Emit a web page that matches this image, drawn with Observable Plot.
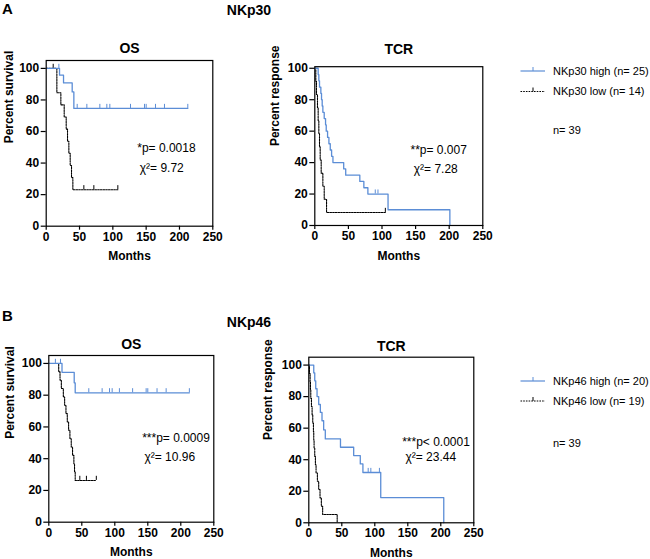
<!DOCTYPE html>
<html><head><meta charset="utf-8">
<script src="https://cdn.jsdelivr.net/npm/d3@7"></script>
<script src="https://cdn.jsdelivr.net/npm/@observablehq/plot@0.6"></script>
<style>
body{margin:0;background:#fff;}
#root{position:relative;width:650px;height:559px;overflow:hidden;}
#root svg{position:absolute;}
#root svg text.bold{font-weight:700 !important;}
#root svg text.normal{font-weight:400 !important;}
</style></head><body><div id="root"></div>
<script>
const FONT = '"Liberation Sans", Arial, Helvetica, sans-serif';
const BLUE = "#5b8dd6";

const xTicks = [0, 50, 100, 150, 200, 250];
const yTicks = [0, 20, 40, 60, 80, 100];

// ---- NKp30 OS ----
const a_os_high_months = [0, 20, 26, 39, 41.5, 212.5];
const a_os_high_values = [100, 95.7, 90.8, 85.1, 74.6, 74.6];
const a_os_high_censor = [19, 46.5, 61, 80.5, 91, 95.5, 126.5, 147.5, 150, 164, 177.5, 212.5];
const a_os_low_months = [0, 16, 22, 27, 30, 32, 34, 36, 38, 40, 107.5];
const a_os_low_values = [100, 84.6, 76.9, 69.2, 61.5, 53.8, 46.2, 38.5, 30.8, 23.1, 23.1];
const a_os_low_censor = [10.5, 56.5, 71.5, 107.5];

// ---- NKp30 TCR ----
const a_tcr_high_months = [0, 5, 6, 7, 9, 10, 11, 12, 14, 16, 17, 19, 21, 23, 25, 27, 43, 46, 67, 73, 79, 109, 201];
const a_tcr_high_values = [100, 96, 92, 88, 84, 80, 76, 72, 68, 64, 60, 56, 52, 48, 44, 40, 36, 32, 28, 24, 20, 10, 0];
const a_tcr_high_censor = [90, 94];
const a_tcr_low_months = [0, 1.5, 2.5, 4, 5, 6, 7, 8, 9.5, 12, 14, 17.5, 105];
const a_tcr_low_values = [100, 91.7, 83.3, 75, 66.7, 58.3, 50, 41.7, 33.3, 25, 16.7, 8.3, 8.3];
const a_tcr_low_censor = [105];

// ---- NKp46 OS ----
const b_os_high_months = [0, 20, 38.5, 40, 213];
const b_os_high_values = [100, 94.4, 87.8, 81.5, 81.5];
const b_os_high_censor = [10, 17.7, 60.6, 80.8, 92, 96, 107, 127, 147.5, 150, 164, 177.8, 213];
const b_os_low_months = [0, 15, 17, 19, 22, 24, 26, 28, 30, 32, 34, 36, 38, 39, 40, 72];
const b_os_low_values = [100, 94.7, 89.5, 84.2, 78.9, 73.7, 68.4, 63.2, 57.9, 52.6, 47.4, 42.1, 36.8, 31.6, 26.3, 26.3];
const b_os_low_censor = [47, 57, 72];

// ---- NKp46 TCR ----
const b_tcr_high_months = [0, 7.5, 9, 10.5, 12.5, 15, 17.5, 20, 22.5, 25, 48, 68, 78, 82, 109, 204.5];
const b_tcr_high_values = [100, 95, 90, 85, 80, 75, 70, 64.7, 58.9, 53.2, 47.9, 42.6, 37.3, 31.9, 16, 0];
const b_tcr_high_censor = [90, 94, 107];
const b_tcr_low_months = [0, 1, 2, 2.5, 3, 4, 5, 6, 7, 7.5, 8, 9, 10, 11, 13, 15, 17, 19, 21, 43];
const b_tcr_low_values = [100, 94.7, 89.5, 84.2, 78.9, 73.7, 68.4, 63.2, 57.9, 52.6, 47.4, 42.1, 36.8, 31.6, 26.3, 21.1, 15.8, 10.5, 5.3, 0];
const b_tcr_low_censor = [];

// ---- texts ----
const groupTitles = ["NKp30", "NKp46"];
const panelLetters = ["A", "B"];
const panelTitles = ["OS", "TCR"];
const yLabels = ["Percent survival", "Percent response"];
const xLabel = "Months";
const pTexts = ["*p= 0.0018", "**p= 0.007", "***p= 0.0009", "***p< 0.0001"];
const chiTexts = ["χ²= 9.72", "χ²= 7.28", "χ²= 10.96", "χ²= 23.44"];
const legendA = ["NKp30 high (n= 25)", "NKp30 low (n= 14)"];
const legendB = ["NKp46 high (n= 20)", "NKp46 low (n= 19)"];
const totalN = "n= 39";

function stepAt(months, values, m) {
  let v = values[0];
  for (let i = 0; i < months.length; i++) if (months[i] <= m) v = values[i];
  return v;
}
function series(months, values) { return months.map((m, i) => ({m, v: values[i]})); }
function censors(list, months, values) { return list.map(m => ({m, v: stepAt(months, values, m)})); }

const root = document.getElementById("root");
const normalTexts = new Set([...pTexts, ...chiTexts]);

function panel(cfg) {
  const hi = series(cfg.hm, cfg.hv), lo = series(cfg.lm, cfg.lv);
  const hiC = censors(cfg.hc, cfg.hm, cfg.hv), loC = censors(cfg.lc, cfg.lm, cfg.lv);
  const tick = 2.6;
  const svg = Plot.plot({
    width: cfg.width, height: cfg.height,
    marginLeft: cfg.ml, marginRight: cfg.mr, marginTop: cfg.mt, marginBottom: cfg.mb,
    x: {domain: [0, 250], label: null},
    y: {domain: [0, cfg.yMax], label: null},
    style: {fontFamily: FONT, fontSize: "12px", background: "none", color: "black", overflow: "visible"},
    marks: [
      Plot.line(lo, {x: "m", y: "v", curve: "step-after", stroke: "black", strokeWidth: 1.1, strokeDasharray: "1.6,1.1"}),
      Plot.ruleX(loC, {x: "m", y1: "v", y2: d => d.v + tick, stroke: "black", strokeWidth: 1}),
      Plot.line(hi, {x: "m", y: "v", curve: "step-after", stroke: BLUE, strokeWidth: 1.3}),
      Plot.ruleX(hiC, {x: "m", y1: "v", y2: d => d.v + tick, stroke: BLUE, strokeWidth: 1}),
      Plot.frame({stroke: "black", strokeWidth: 1.2}),
      Plot.axisX({ticks: xTicks, tickSize: 4, tickPadding: 2, label: null, strokeWidth: 1.2, fontSize: 12}),
      Plot.axisY({ticks: yTicks, tickSize: 5, tickPadding: 2, label: null, strokeWidth: 1.2, fontSize: 12}),
      Plot.text([cfg.title], {frameAnchor: "top", lineAnchor: "middle", dy: cfg.titleDy, fontSize: 14}),
      Plot.text([cfg.yLabel], {frameAnchor: "left", lineAnchor: "middle", rotate: -90, dx: cfg.yLabelDx, fontSize: 12}),
      Plot.text([xLabel], {frameAnchor: "bottom", lineAnchor: "middle", dy: 30.3, fontSize: 12}),
      Plot.text([cfg.p], {x: () => cfg.px, y: () => cfg.py, textAnchor: "start", fontSize: 12}),
      Plot.text([cfg.chi], {x: () => cfg.cx, y: () => cfg.cy, textAnchor: "start", fontSize: 12})
    ]
  });
  svg.querySelectorAll("text").forEach(t => {
    const isNormal = normalTexts.has(t.textContent.trim());
    t.setAttribute("class", isNormal ? "normal" : "bold");
    t.setAttribute("font-weight", isNormal ? "normal" : "bold");
  });
  svg.style.left = cfg.left + "px";
  svg.style.top = cfg.top + "px";
  root.appendChild(svg);
}

panel({left: 0, top: 30, width: 227.3, height: 235.7, ml: 45.7, mr: 15, mt: 30, mb: 40, yMax: 105,
  hm: a_os_high_months, hv: a_os_high_values, hc: a_os_high_censor,
  lm: a_os_low_months, lv: a_os_low_values, lc: a_os_low_censor,
  title: panelTitles[0], titleDy: -11.6, yLabel: yLabels[0], yLabelDx: -37.4,
  p: pTexts[0], px: 136.6, py: 49.2, chi: chiTexts[0], cx: 140.5, cy: 36.9});

panel({left: 262, top: 30, width: 235.3, height: 235, ml: 52.3, mr: 15, mt: 36.2, mb: 40, yMax: 101,
  hm: a_tcr_high_months, hv: a_tcr_high_values, hc: a_tcr_high_censor,
  lm: a_tcr_low_months, lv: a_tcr_low_values, lc: a_tcr_low_censor,
  title: panelTitles[1], titleDy: -17.2, yLabel: yLabels[1], yLabelDx: -40,
  p: pTexts[1], px: 142.4, py: 47.8, chi: chiTexts[1], cx: 147.3, cy: 36.1});

panel({left: 0, top: 325, width: 228.3, height: 233.7, ml: 48.3, mr: 15, mt: 30, mb: 37, yMax: 105,
  hm: b_os_high_months, hv: b_os_high_values, hc: b_os_high_censor,
  lm: b_os_low_months, lv: b_os_low_values, lc: b_os_low_censor,
  title: panelTitles[0], titleDy: -11, yLabel: yLabels[0], yLabelDx: -38.3,
  p: pTexts[2], px: 141.5, py: 52.7, chi: chiTexts[2], cx: 145, cy: 41});

panel({left: 258, top: 325, width: 230.3, height: 234, ml: 50.3, mr: 15, mt: 31.7, mb: 36.7, yMax: 105,
  hm: b_tcr_high_months, hv: b_tcr_high_values, hc: b_tcr_high_censor,
  lm: b_tcr_low_months, lv: b_tcr_low_values, lc: b_tcr_low_censor,
  title: panelTitles[1], titleDy: -10.5, yLabel: yLabels[1], yLabelDx: -41,
  p: pTexts[3], px: 141.5, py: 51, chi: chiTexts[3], cx: 146.5, cy: 41.5});

// ---- overlay: headings and legends ----
const ov = d3.select(root).append("svg")
  .attr("width", 650).attr("height", 559)
  .style("left", "0px").style("top", "0px")
  .attr("font-family", FONT);

function heading(letter, title, yLetter, yTitle) {
  ov.append("text").attr("x", 2).attr("y", yLetter).attr("font-size", 15).attr("font-weight", "bold").text(letter);
  ov.append("text").attr("x", 249).attr("y", yTitle).attr("text-anchor", "middle").attr("font-size", 14).attr("font-weight", "bold").text(title);
}
heading(panelLetters[0], groupTitles[0], 13.5, 15);
heading(panelLetters[1], groupTitles[1], 321, 327);

function legend(labels, y1, y2, yN) {
  const rows = [{y: y1, label: labels[0], color: BLUE, dash: null}, {y: y2, label: labels[1], color: "black", dash: "1.6,1.1"}];
  for (const r of rows) {
    ov.append("line").attr("x1", 520.5).attr("x2", 545).attr("y1", r.y).attr("y2", r.y)
      .attr("stroke", r.color).attr("stroke-width", 1.2).attr("stroke-dasharray", r.dash);
    ov.append("line").attr("x1", 533).attr("x2", 533).attr("y1", r.y).attr("y2", r.y - 4)
      .attr("stroke", r.color).attr("stroke-width", 1);
    ov.append("text").attr("x", 553).attr("y", r.y).attr("dy", "0.35em").attr("font-size", 11).text(r.label);
  }
  ov.append("text").attr("x", 553).attr("y", yN).attr("dy", "0.35em").attr("font-size", 11).text(totalN);
}
legend(legendA, 71, 91.5, 130);
legend(legendB, 381, 401, 443);
</script>
</body></html>
